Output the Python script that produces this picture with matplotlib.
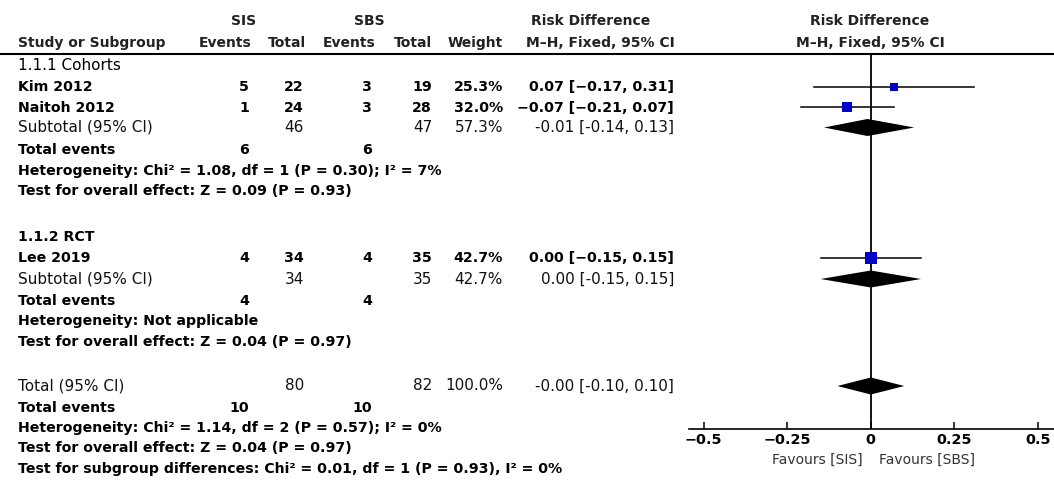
import matplotlib
matplotlib.use("Agg")
import matplotlib.pyplot as plt

plt.rcParams['font.family'] = ['DejaVu Sans']

# study level data
studies = ["Kim 2012", "Naitoh 2012", "Lee 2019"]
sis_events = [5, 1, 4]
sis_total = [22, 24, 34]
sbs_events = [3, 3, 4]
sbs_total = [19, 28, 35]
weights = [25.3, 32.0, 42.7]
rd = [0.07, -0.07, 0.00]
rd_lo = [-0.17, -0.21, -0.15]
rd_hi = [0.31, 0.07, 0.15]

# pooled results: cohorts, RCT, overall
pooled_names = ["Subtotal (95% CI)", "Subtotal (95% CI)", "Total (95% CI)"]
pooled_sis_total = [46, 34, 80]
pooled_sbs_total = [47, 35, 82]
pooled_weight = [57.3, 42.7, 100.0]
pooled_rd = [-0.01, 0.00, -0.00]
pooled_lo = [-0.14, -0.15, -0.10]
pooled_hi = [0.13, 0.15, 0.10]
pooled_sis_events = [6, 4, 10]
pooled_sbs_events = [6, 4, 10]

subgroups = ["1.1.1 Cohorts", "1.1.2 RCT"]
het_text = ["Heterogeneity: Chi\u00b2 = 1.08, df = 1 (P = 0.30); I\u00b2 = 7%",
            "Heterogeneity: Not applicable",
            "Heterogeneity: Chi\u00b2 = 1.14, df = 2 (P = 0.57); I\u00b2 = 0%"]
effect_text = ["Test for overall effect: Z = 0.09 (P = 0.93)",
               "Test for overall effect: Z = 0.04 (P = 0.97)",
               "Test for overall effect: Z = 0.04 (P = 0.97)"]
subgroup_diff = "Test for subgroup differences: Chi\u00b2 = 0.01, df = 1 (P = 0.93), I\u00b2 = 0%"

ticks = [-0.5, -0.25, 0, 0.25, 0.5]
tick_labels = ["\u22120.5", "\u22120.25", "0", "0.25", "0.5"]

# row positions (pixels from top)
study_y = [87, 107.5, 258]
sub_y = [65, 237]
pooled_y = [127.5, 279, 386]
events_y = [150, 301, 408]
het_y = [171, 321, 428]
eff_y = [191, 342, 448]
diff_y = 469

# columns: left edge of names, right edges of the rest
c_name = 18
c_sis_ev, c_sis_tot, c_sbs_ev, c_sbs_tot, c_w, c_ci = 249, 304, 372, 432, 503, 674

HDR = 10
BOLD = 10.2
REG = 11
HC = '#222222'

fig = plt.figure(figsize=(10.54, 4.8), dpi=100)
ax = fig.add_axes([0, 0, 1, 1])
ax.set_xlim(0, 1054)
ax.set_ylim(480, 0)
ax.axis('off')

def fmt(v):
    return f"{v:.2f}".replace("-", "\u2212")

# header
hk = dict(va='center', fontsize=HDR, fontweight='bold', color=HC)
ax.text(244, 21, "SIS", ha='center', **hk)
ax.text(369, 21, "SBS", ha='center', **hk)
ax.text(591, 21, "Risk Difference", ha='center', **hk)
ax.text(870, 21, "Risk Difference", ha='center', **hk)
ax.text(c_name, 43, "Study or Subgroup", ha='left', **hk)
for x, s in [(251, "Events"), (306, "Total"), (376, "Events"), (432, "Total"), (503, "Weight")]:
    ax.text(x, 43, s, ha='right', **hk)
ax.text(675, 43, "M\u2013H, Fixed, 95% CI", ha='right', **hk)
ax.text(870, 43, "M\u2013H, Fixed, 95% CI", ha='center', **hk)
ax.plot([0, 1054], [53.5, 53.5], color='black', lw=1.5)

# subgroup labels
ax.text(c_name, sub_y[0], subgroups[0], ha='left', va='center', fontsize=REG)
ax.text(c_name, sub_y[1], subgroups[1], ha='left', va='center', fontsize=BOLD, fontweight='bold')

# study rows
for i, name in enumerate(studies):
    y = study_y[i]
    kw = dict(va='center', fontsize=BOLD, fontweight='bold')
    ax.text(c_name, y, name, ha='left', **kw)
    ax.text(c_sis_ev, y, str(sis_events[i]), ha='right', **kw)
    ax.text(c_sis_tot, y, str(sis_total[i]), ha='right', **kw)
    ax.text(c_sbs_ev, y, str(sbs_events[i]), ha='right', **kw)
    ax.text(c_sbs_tot, y, str(sbs_total[i]), ha='right', **kw)
    ax.text(c_w, y, f"{weights[i]:.1f}%", ha='right', **kw)
    ax.text(c_ci, y, f"{fmt(rd[i])} [{fmt(rd_lo[i])}, {fmt(rd_hi[i])}]", ha='right', **kw)

# pooled rows and the lines under them
for j in range(3):
    y = pooled_y[j]
    kw = dict(va='center', fontsize=REG, color='#111111')
    ax.text(c_name, y, pooled_names[j], ha='left', **kw)
    ax.text(c_sis_tot, y, str(pooled_sis_total[j]), ha='right', **kw)
    ax.text(c_sbs_tot, y, str(pooled_sbs_total[j]), ha='right', **kw)
    ax.text(c_w, y, f"{pooled_weight[j]:.1f}%", ha='right', **kw)
    ax.text(c_ci, y, f"{pooled_rd[j]:.2f} [{pooled_lo[j]:.2f}, {pooled_hi[j]:.2f}]", ha='right', **kw)

    kb = dict(va='center', fontsize=BOLD, fontweight='bold')
    ax.text(c_name, events_y[j], "Total events", ha='left', **kb)
    ax.text(c_sis_ev, events_y[j], str(pooled_sis_events[j]), ha='right', **kb)
    ax.text(c_sbs_ev, events_y[j], str(pooled_sbs_events[j]), ha='right', **kb)
    ax.text(c_name, het_y[j], het_text[j], ha='left', **kb)
    ax.text(c_name, eff_y[j], effect_text[j], ha='left', **kb)
ax.text(c_name, diff_y, subgroup_diff, ha='left', va='center', fontsize=BOLD, fontweight='bold')

# forest panel, y in the same pixel units as the table
x0, x1 = -0.544, 0.548
px_left, px_right = 689, 1054
ax_top, ax_bot = 53.5, 429
fa = fig.add_axes([px_left / 1054, (480 - ax_bot) / 480,
                   (px_right - px_left) / 1054, (ax_bot - ax_top) / 480])
fa.set_xlim(x0, x1)
fa.set_ylim(ax_bot, ax_top)
fa.patch.set_alpha(0)
for s in ['left', 'right', 'top']:
    fa.spines[s].set_visible(False)
fa.spines['bottom'].set_linewidth(1.2)
fa.set_yticks([])
fa.set_xticks(ticks)
fa.set_xticklabels(tick_labels, fontsize=10.4, fontweight='bold')
fa.tick_params(axis='x', direction='in', length=5, width=1.1, pad=3)
fa.axvline(0, color='black', lw=1.3, zorder=1)

for i in range(3):
    fa.plot([rd_lo[i], rd_hi[i]], [study_y[i], study_y[i]], color='black', lw=1.1, zorder=2)
    fa.plot(rd[i], study_y[i], marker='s', ms=weights[i] * 0.21, color='#0000c8',
            markeredgewidth=0, linestyle='none', zorder=3)

for j in range(3):
    y = pooled_y[j]
    h = 8.5
    xs = [pooled_lo[j], pooled_rd[j], pooled_hi[j], pooled_rd[j]]
    ys = [y, y - h, y, y + h]
    fa.fill(xs, ys, color='black', zorder=3, lw=0)

ax.text(863, 460, "Favours [SIS]", ha='right', va='center', fontsize=10, color='#333333')
ax.text(879, 460, "Favours [SBS]", ha='left', va='center', fontsize=10, color='#333333')

fig.savefig("out.png", dpi=100)
